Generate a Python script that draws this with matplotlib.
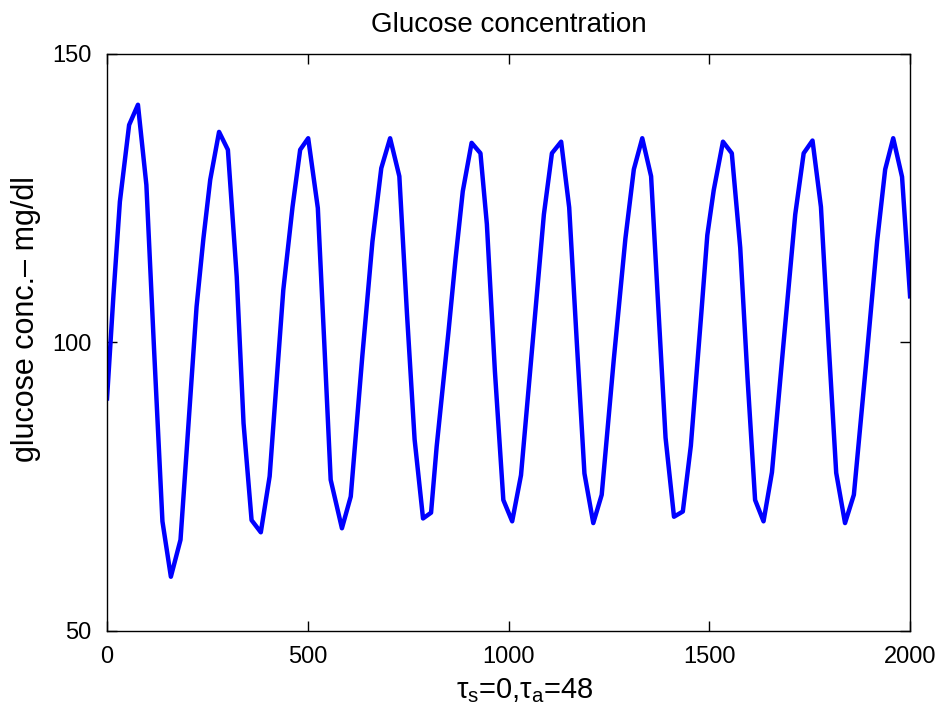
import matplotlib
matplotlib.use("Agg")
import matplotlib.pyplot as plt

# vertices
t = [0, 16, 32, 55, 77, 98, 117, 138, 159, 183,
     203, 223, 240, 257, 279, 301, 323, 340, 360, 383,
     405, 422, 439, 462, 481, 501, 525, 541, 557, 585,
     607, 636, 661, 683, 705, 728, 747, 766, 787, 807,
     821, 850, 868, 886, 908, 930, 946, 966, 987, 1009,
     1031, 1060, 1088, 1108, 1131, 1151, 1170, 1189, 1211, 1232,
     1262, 1291, 1312, 1333, 1355, 1373, 1391, 1412, 1434, 1454,
     1480, 1495, 1511, 1534, 1556, 1577, 1595, 1614, 1635, 1656,
     1685, 1714, 1735, 1757, 1778, 1797, 1816, 1838, 1860, 1890,
     1918, 1938, 1958, 1980, 2000]
glucose = [90.3, 108.2, 124.4, 137.7, 141.2, 127.3, 99.0, 69.0, 59.4, 65.8,
           86.0, 106.2, 118.0, 128.2, 136.5, 133.4, 111.4, 86.0, 69.2, 67.1,
           76.8, 93.0, 109.1, 123.5, 133.4, 135.4, 123.3, 100.0, 76.2, 67.8,
           73.3, 97.8, 117.5, 130.2, 135.4, 128.8, 105.0, 83.2, 69.5, 70.5,
           82.0, 101.6, 114.5, 126.2, 134.6, 132.8, 120.5, 95.0, 72.7, 69.0,
           77.0, 100.0, 122.2, 132.8, 134.8, 123.4, 100.0, 77.3, 68.7, 73.6,
           97.0, 118.0, 130.0, 135.4, 128.8, 106.0, 83.5, 69.8, 70.7, 82.1,
           105.0, 118.6, 126.4, 134.8, 132.8, 116.4, 94.0, 72.7, 69.0, 77.5,
           100.0, 122.2, 132.8, 135.0, 123.5, 100.0, 77.4, 68.7, 73.6, 96.0,
           117.6, 130.0, 135.4, 128.7, 108.0]

xticks = [0, 500, 1000, 1500, 2000]
yticks = [50, 100, 150]

plt.rcParams['font.family'] = ['Liberation Sans', 'DejaVu Sans']
plt.rcParams['mathtext.fontset'] = 'custom'
plt.rcParams['mathtext.rm'] = 'Liberation Sans'
plt.rcParams['mathtext.it'] = 'Liberation Sans'

fig = plt.figure(figsize=(9.48, 7.17), dpi=100)
ax = fig.add_axes([0.1129, 0.120, 0.8471, 0.8047])

ax.plot(t, glucose, color=(0, 0, 1), lw=3.2)

ax.set_xlim(0, 2000)
ax.set_ylim(50, 150)
ax.set_xticks(xticks)
ax.set_yticks(yticks)
ax.tick_params(direction='in', length=7, width=1, labelsize=17,
               top=True, right=True)
ax.tick_params(axis='x', pad=11)
ax.tick_params(axis='y', pad=11)
for s in ax.spines.values():
    s.set_linewidth(1)

ax.set_title('Glucose concentration', fontsize=20, pad=16)
ax.set_xlabel(r'$\tau_s$=0,$\tau_a$=48', fontsize=21)
ax.set_ylabel('glucose conc.\u2013 mg/dl', fontsize=22)
ax.xaxis.set_label_coords(0.52, -0.078)
ax.yaxis.set_label_coords(-0.082, 0.54)

fig.savefig('out.png', dpi=100)
